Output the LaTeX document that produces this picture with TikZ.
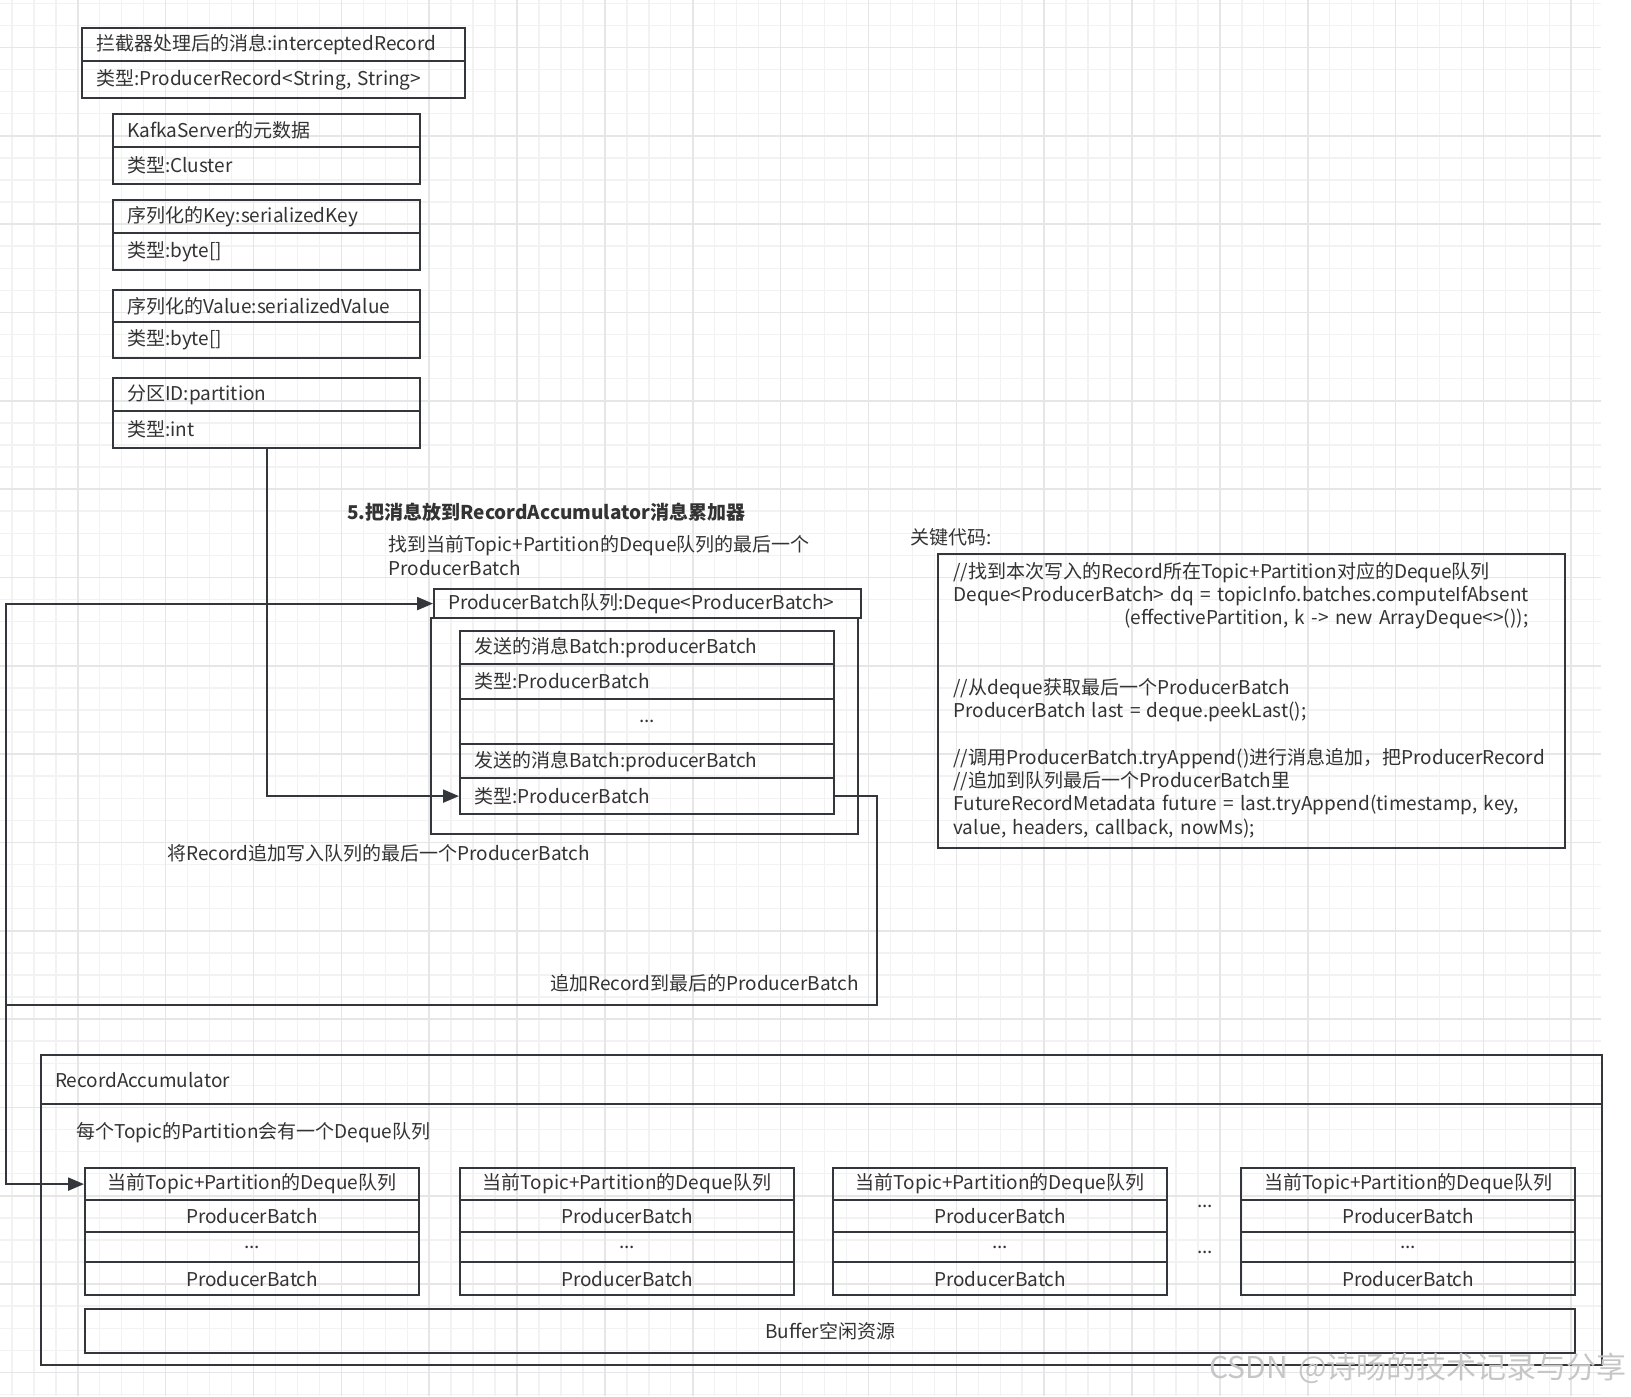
\documentclass[tikz,border=0pt]{standalone}
\usepackage{fontspec}
\setmainfont[WordSpace=1.5]{Noto Sans CJK SC}
\usetikzlibrary{arrows.meta}
\definecolor{linec}{HTML}{33373B}
\definecolor{textc}{HTML}{333333}
\definecolor{gridminor}{HTML}{F2F2F2}
\definecolor{gridmajor}{HTML}{E6E6E6}
\begin{document}
\begin{tikzpicture}[x=0.5pt,y=-0.5pt,font=\fontsize{9.5}{11.64}\selectfont,text=textc]
\tikzstyle{every node}=[inner sep=0pt];
\tikzstyle{cell}=[draw=linec,line width=1.1pt,anchor=north west,inner xsep=7pt,inner ysep=0pt,align=left];
\tikzstyle{qcell}=[draw=linec,line width=1.1pt,anchor=north west,inner xsep=7pt,inner ysep=0pt,align=center,text width=153pt];
\tikzstyle{frame}=[draw=linec,line width=1.1pt,anchor=north west];
\tikzstyle{link}=[draw=linec,line width=1.1pt,-{Triangle[length=8pt,width=6.5pt]}];
\useasboundingbox (0,0) rectangle (1631,1396);
\fill[white] (0,0) rectangle (1631,1396);
% background grid
\foreach \i in {0,...,72} \draw[gridminor,line width=0.7pt] ({11.9+\i*21.9625},0) -- ({11.9+\i*21.9625},1396);
\foreach \i in {0,...,63} \draw[gridminor,line width=0.7pt] (0,{3.24+\i*22.083}) -- (1601,{3.24+\i*22.083});
\foreach \i in {0,...,17} \draw[gridmajor,line width=0.8pt] ({77.8+\i*87.85},0) -- ({77.8+\i*87.85},1396);
\foreach \i in {0,...,15} \draw[gridmajor,line width=0.8pt] (0,{47.4+\i*88.33}) -- (1601,{47.4+\i*88.33});
% fields of the record
\node[cell,text width=177.5pt,minimum height=16.5pt] (rec) at (81,27) {拦截器处理后的消息:interceptedRecord};
\node[cell,text width=177.5pt,minimum height=18.5pt] (rect) at (81,60) {类型:ProducerRecord<String, String>};
\node[cell,text width=139.5pt,minimum height=16.5pt] (srv) at (112,113) {KafkaServer的元数据};
\node[cell,text width=139.5pt,minimum height=18.5pt] (srvt) at (112,146) {类型:Cluster};
\node[cell,text width=139.5pt,minimum height=16.5pt] (key) at (112,199) {序列化的Key:serializedKey};
\node[cell,text width=139.5pt,minimum height=18.5pt] (keyt) at (112,232) {类型:byte[]};
\node[cell,text width=139.5pt,minimum height=16pt] (val) at (112,289) {序列化的Value:serializedValue};
\node[cell,text width=139.5pt,minimum height=18pt] (valt) at (112,321) {类型:byte[]};
\node[cell,text width=139.5pt,minimum height=16.5pt] (part) at (112,377) {分区ID:partition};
\node[cell,text width=139.5pt,minimum height=18.5pt] (partt) at (112,410) {类型:int};
% step 5
\node[anchor=west,font=\fontsize{9.5}{11.64}\selectfont\bfseries] (title) at (347,512) {5.把消息放到RecordAccumulator消息累加器};
\node[anchor=west,align=left] (find) at (388,555.5) {找到当前Topic+Partition的Deque队列的最后一个\\ProducerBatch};
\node[frame,minimum width=213.5pt,minimum height=108pt] (dqbody) at (430,617) {};
\node[cell,text width=199.5pt,minimum height=14.5pt] (dqhead) at (433,588) {ProducerBatch队列:Deque<ProducerBatch>};
\node[cell,text width=173pt,minimum height=16.5pt] (pb1) at (459,630) {发送的消息Batch:producerBatch};
\node[cell,text width=173pt,minimum height=17.5pt] (pb1t) at (459,663) {类型:ProducerBatch};
\node[cell,text width=173pt,minimum height=22.5pt,align=center] (pbdots) at (459,698) {...};
\node[cell,text width=173pt,minimum height=17pt] (pb2) at (459,743) {发送的消息Batch:producerBatch};
\node[cell,text width=173pt,minimum height=18pt] (pb2t) at (459,777) {类型:ProducerBatch};
\node[anchor=west] (appendlbl) at (167,853) {将Record追加写入队列的最后一个ProducerBatch};
\node[anchor=east] (tolast) at (859,983) {追加Record到最后的ProducerBatch};
% key code
\node[anchor=west] (codelbl) at (910,537) {关键代码:};
\node[frame,minimum width=313.5pt,minimum height=147pt] (code) at (937,553) {};
\node[anchor=west,align=left] (codetxt) at (953,700) {//找到本次写入的Record所在Topic+Partition对应的Deque队列\\Deque<ProducerBatch> dq = topicInfo.batches.computeIfAbsent\\\hspace*{85.5pt}(effectivePartition, k -> new ArrayDeque<>());\\\mbox{}\\\mbox{}\\//从deque获取最后一个ProducerBatch\\ProducerBatch last = deque.peekLast();\\\mbox{}\\//调用ProducerBatch.tryAppend()进行消息追加，把ProducerRecord\\//追加到队列最后一个ProducerBatch里\\FutureRecordMetadata future = last.tryAppend(timestamp, key,\\value, headers, callback, nowMs);};
% accumulator
\node[cell,text width=766.5pt,minimum height=24.5pt] (acchead) at (40,1054) {RecordAccumulator};
\node[frame,minimum width=780.5pt,minimum height=130.5pt] (accbody) at (40,1103) {};
\node[anchor=west] (acclbl) at (76,1133) {每个Topic的Partition会有一个Deque队列};
\node[qcell,minimum height=16pt] (tp1) at (84,1167) {当前Topic+Partition的Deque队列};
\node[qcell,minimum height=16pt] (tp1a) at (84,1199) {ProducerBatch};
\node[qcell,minimum height=15pt] (tp1d) at (84,1231) {...};
\node[qcell,minimum height=16.5pt] (tp1b) at (84,1261) {ProducerBatch};
\node[qcell,minimum height=16pt] (tp2) at (459,1167) {当前Topic+Partition的Deque队列};
\node[qcell,minimum height=16pt] (tp2a) at (459,1199) {ProducerBatch};
\node[qcell,minimum height=15pt] (tp2d) at (459,1231) {...};
\node[qcell,minimum height=16.5pt] (tp2b) at (459,1261) {ProducerBatch};
\node[qcell,minimum height=16pt] (tp3) at (832,1167) {当前Topic+Partition的Deque队列};
\node[qcell,minimum height=16pt] (tp3a) at (832,1199) {ProducerBatch};
\node[qcell,minimum height=15pt] (tp3d) at (832,1231) {...};
\node[qcell,minimum height=16.5pt] (tp3b) at (832,1261) {ProducerBatch};
\node[qcell,minimum height=16pt] (tp4) at (1240,1167) {当前Topic+Partition的Deque队列};
\node[qcell,minimum height=16pt] (tp4a) at (1240,1199) {ProducerBatch};
\node[qcell,minimum height=15pt] (tp4d) at (1240,1231) {...};
\node[qcell,minimum height=16.5pt] (tp4b) at (1240,1261) {ProducerBatch};
\node (gap1) at (1205,1206) {...};
\node (gap2) at (1205,1252) {...};
\node[frame,minimum width=745pt,minimum height=22pt] (buf) at (84,1308) {Buffer空闲资源};
\node[anchor=east,text=gray!45,font=\fontsize{15}{18}\selectfont] (mark) at (1627,1368) {CSDN @诗旸的技术记录与分享};
% connectors
\coordinate (turn) at (877,1005);
\coordinate (lft) at (6,1005);
\draw[link] (partt.south) |- (pb2t.west);
\draw[link] (pb2t.east) -| (turn) -- (lft) |- (dqhead.west);
\draw[link] (lft) |- (tp1.west);
\end{tikzpicture}
\end{document}
